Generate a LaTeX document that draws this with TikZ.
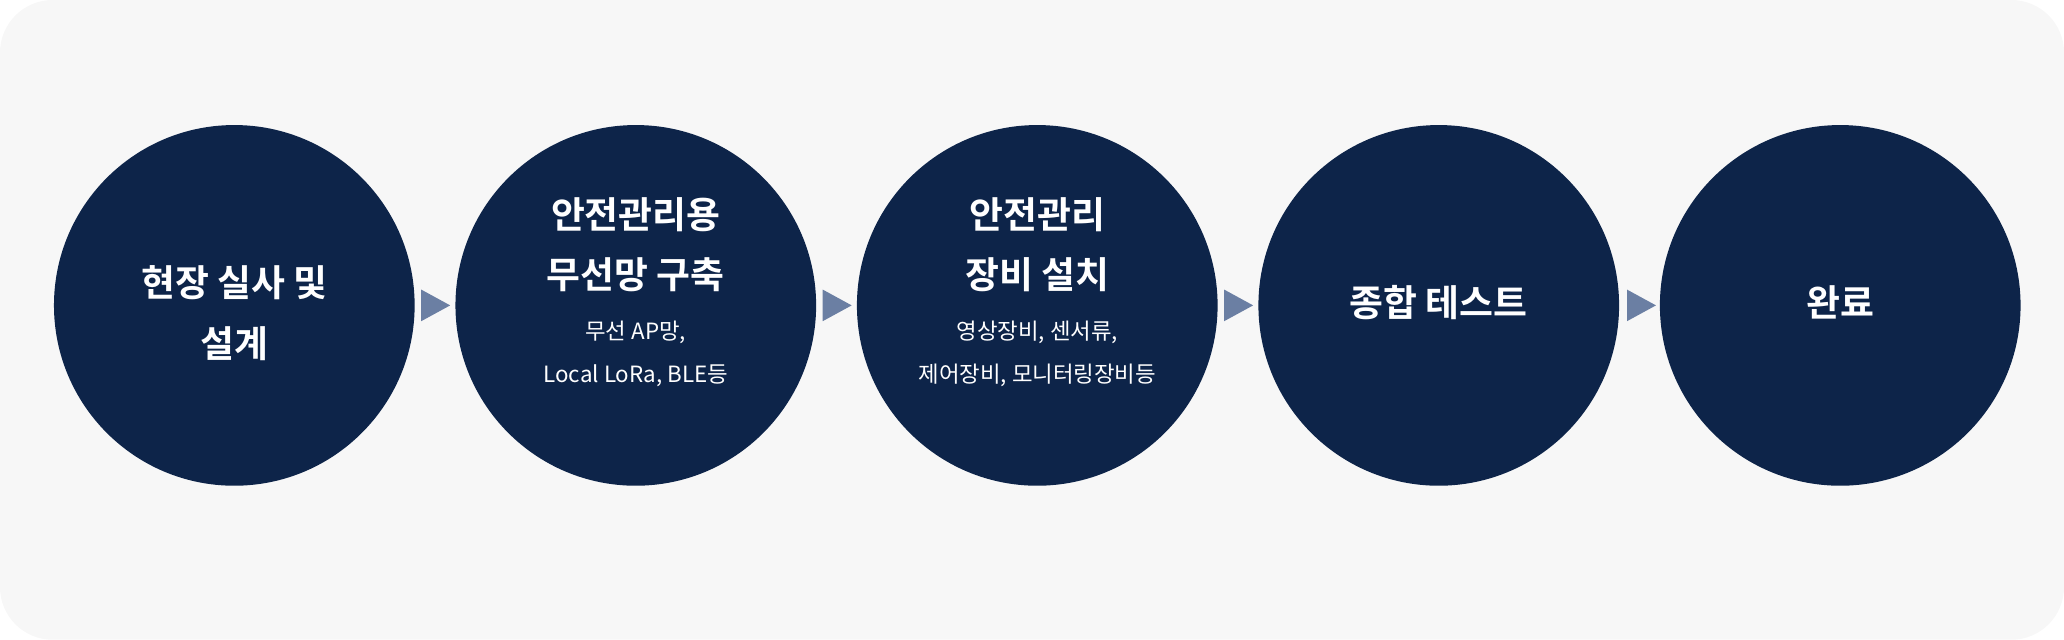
\documentclass[tikz,border=0pt]{standalone}
\usepackage{fontspec}
\newfontfamily\kr{Noto Sans CJK KR}[BoldFont={* Bold}]
\definecolor{bg}{HTML}{F7F7F7}
\definecolor{navy}{HTML}{0D2449}
\definecolor{arr}{HTML}{6B7FA3}
\begin{document}
\begin{tikzpicture}[x=1pt,y=-1pt,
  stepcircle/.style={circle,fill=navy,minimum size=274pt,inner sep=0pt},
  ttl/.style={text=white,font=\kr\bfseries\fontsize{28}{46}\selectfont,align=center},
  sub/.style={text=white,font=\kr\fontsize{17}{33}\selectfont,align=center},
  tri/.style={fill=arr}]
\useasboundingbox (0,0) rectangle (1568,486);
\fill[bg,rounded corners=40pt] (0,0) rectangle (1568,486);
\foreach \i/\x in {1/178,2/483,3/788,4/1093,5/1398}{
  \node[stepcircle] (c\i) at (\x,232) {};
}
\foreach \i/\x in {1/320,2/625,3/930,4/1236}{
  \fill[arr] (\x,220) -- (\x+22,232) -- (\x,244) -- cycle;
}
\node[ttl] (t1) at (178,238) {현장 실사 및\\설계};
\node[ttl] (t2) at (483,186) {안전관리용\\무선망 구축};
\node[sub] (s2) at (483,269) {무선 AP망,\\Local LoRa, BLE등};
\node[ttl] (t3) at (788,186) {안전관리\\장비 설치};
\node[sub] (s3) at (788,269) {영상장비, 센서류,\\제어장비, 모니터링장비등};
\node[ttl] (t4) at (1093,230) {종합 테스트};
\node[ttl] (t5) at (1398,230) {완료};
\end{tikzpicture}
\end{document}
